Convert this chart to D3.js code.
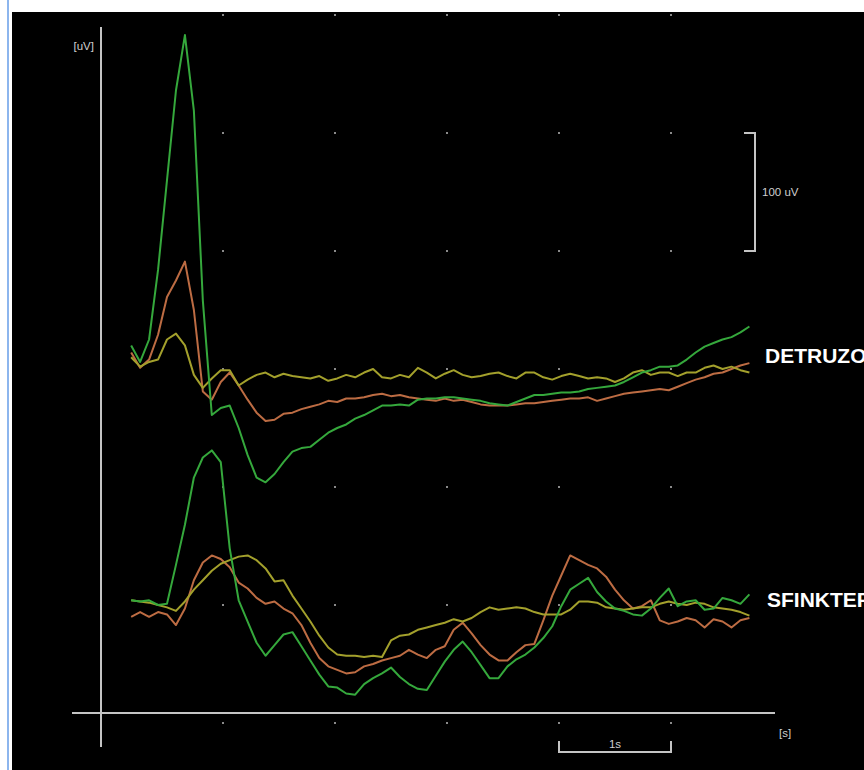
<!DOCTYPE html>
<html>
<head>
    <meta charset="utf-8">
    <title>Detruzor / Sfinkter</title>
    <script src="https://d3js.org/d3.v7.min.js"></script>
    <style>
        body { margin: 0; background: #fff; }
        svg { display: block; }
    </style>
</head>
<body>
<div id="chart"></div>
<script>
// sample times [s]
var times = [0.18,0.26,0.34,0.42,0.50,0.58,0.66,0.74,0.82,0.90,0.98,1.06,1.14,1.22,1.30,1.38,1.46,1.54,1.62,1.70,
             1.78,1.86,1.94,2.02,2.10,2.18,2.26,2.34,2.42,2.50,2.58,2.66,2.74,2.82,2.90,2.98,3.06,3.14,3.22,3.30,
             3.38,3.46,3.54,3.62,3.70,3.78,3.86,3.94,4.02,4.10,4.18,4.26,4.34,4.42,4.50,4.58,4.66,4.74,4.82,4.90,
             4.98,5.06,5.14,5.22,5.30,5.38,5.46,5.54,5.62,5.70];

// detruzor channel [uV]
var detGreen = [20,6,25,84,160,236,283,219,58,-39,-33,-31,-50,-73,-92,-96,-89,-79,-70,-67,
                -66,-60,-54,-50,-47,-42,-39,-35,-31,-31,-30,-31,-26,-25,-25,-24,-24,-25,-26,-27,
                -29,-30,-31,-28,-25,-22,-22,-21,-20,-20,-19,-17,-16,-15,-14,-11,-7,-3,-1,2,
                2,3,8,14,19,22,25,27,31,36];
var detOrange = [14,1,8,29,61,75,91,50,-19,-26,-11,-3,-14,-26,-37,-44,-43,-38,-37,-34,
                 -32,-30,-27,-28,-25,-25,-24,-22,-21,-23,-22,-24,-25,-26,-27,-25,-27,-26,-28,-30,
                 -31,-31,-31,-30,-29,-29,-28,-27,-26,-25,-25,-24,-27,-25,-23,-21,-20,-19,-18,-17,
                 -18,-15,-12,-9,-7,-4,-3,0,3,5];
var detYellow = [10,2,6,8,25,30,20,-5,-16,-8,-1,-1,-14,-9,-5,-3,-7,-4,-6,-7,
                 -8,-6,-10,-8,-5,-7,-3,0,-7,-8,-5,-7,1,-3,-8,-4,-1,-5,-7,-6,
                 -4,-3,-6,-8,-3,-3,-7,-9,-6,-4,-6,-8,-7,-8,-11,-8,-3,-1,-5,-3,
                 -3,-6,-3,-3,1,3,0,2,-1,-3];

// sfinkter channel [uV]
var sfGreen = [4,3,4,0,1,34,68,108,125,131,121,48,4,-14,-32,-43,-34,-25,-23,-35,
               -47,-59,-69,-70,-75,-76,-67,-62,-58,-53,-61,-67,-71,-72,-60,-48,-38,-31,-40,-51,
               -62,-62,-52,-46,-42,-36,-28,-18,-1,13,18,23,11,3,-3,-5,-8,-9,-3,6,
               14,-1,3,4,-4,-3,6,4,1,9];
var sfOrange = [-10,-6,-10,-6,-8,-17,-3,21,36,42,39,32,19,14,6,1,3,-3,-7,-17,
                -32,-45,-52,-55,-58,-57,-52,-50,-47,-45,-43,-38,-42,-45,-38,-35,-21,-15,-24,-34,
                -42,-47,-47,-40,-34,-33,-13,8,25,42,38,34,31,24,13,4,-3,-1,4,-13,
                -16,-14,-11,-13,-19,-12,-14,-19,-13,-11];
var sfYellow = [4,3,2,0,-2,-5,3,13,21,29,35,38,41,42,38,31,20,21,8,-3,
                -14,-26,-36,-42,-43,-43,-44,-43,-44,-30,-26,-25,-21,-19,-17,-15,-12,-14,-11,-6,
                -2,-4,-3,-2,-3,-6,-8,-8,-8,-4,3,3,2,-2,-3,-4,-3,-2,-2,1,
                3,1,0,2,1,-2,-3,-4,-6,-9];

var channelNames = ["DETRUZOR", "SFINKTER"];
var channelOffsets = [0, -200];        // uV shift of each channel baseline
var gridSeconds = [1, 2, 3, 4, 5];
var gridLevels = [300, 200, 100, 0, -100, -200, -300];

var colors = { green: "#35a83c", orange: "#bd6c43", yellow: "#a3a02c" };

var width = 864, height = 770;

var x = d3.scaleLinear().domain([0, 6]).range([111, 783]);
var y = d3.scaleLinear().domain([0, 100]).range([369, 251]);

var svg = d3.select("#chart").append("svg")
    .attr("width", width)
    .attr("height", height);

// frame: blue rule on the left, black panel
svg.append("rect").attr("x", 7).attr("y", 0).attr("width", 2).attr("height", height).attr("fill", "#8db6ee");
svg.append("rect").attr("x", 12).attr("y", 12).attr("width", width - 12).attr("height", height - 12).attr("fill", "#000");

// grid dots
var dots = [];
gridSeconds.forEach(function(s) {
    gridLevels.forEach(function(l) { dots.push([s, l]); });
});
svg.selectAll("rect.dot")
    .data(dots)
    .enter()
    .append("rect")
    .attr("class", "dot")
    .attr("x", function(d) { return x(d[0]) - 1; })
    .attr("y", function(d) { return y(d[1]) - 1; })
    .attr("width", 2)
    .attr("height", 2)
    .attr("fill", "#8a8a8a");

// axes
var axisColor = "#c4c4c4";
svg.append("line").attr("x1", 101).attr("x2", 101).attr("y1", 27).attr("y2", 747)
    .attr("stroke", axisColor).attr("stroke-width", 2);
svg.append("line").attr("x1", 72).attr("x2", 775).attr("y1", 713).attr("y2", 713)
    .attr("stroke", axisColor).attr("stroke-width", 2);

var smallText = function(txt, tx, ty, anchor) {
    svg.append("text")
        .attr("x", tx).attr("y", ty)
        .attr("text-anchor", anchor || "start")
        .attr("fill", "#cfcfcf")
        .style("font-family", "'Liberation Sans', Arial, sans-serif")
        .style("font-size", "11.5px")
        .text(txt);
};
smallText("[uV]", 94, 50, "end");
smallText("[s]", 779, 737);

// 100 uV scale bar
var barX = 755;
svg.append("path")
    .attr("d", "M" + (barX - 11) + "," + y(200) + "H" + barX + "V" + y(100) + "H" + (barX - 11))
    .attr("fill", "none").attr("stroke", axisColor).attr("stroke-width", 2);
smallText("100 uV", 762, 196);

// 1 s scale bar
var barY = 752;
svg.append("path")
    .attr("d", "M" + x(4) + "," + (barY - 11) + "V" + barY + "H" + x(5) + "V" + (barY - 11))
    .attr("fill", "none").attr("stroke", axisColor).attr("stroke-width", 2);
smallText("1s", (x(4) + x(5)) / 2, 748, "middle");

// traces
var line = d3.line()
    .x(function(d, i) { return x(times[i]); });

var traces = [
    { values: detOrange, ch: 0, color: colors.orange },
    { values: detYellow, ch: 0, color: colors.yellow },
    { values: detGreen,  ch: 0, color: colors.green },
    { values: sfOrange,  ch: 1, color: colors.orange },
    { values: sfYellow,  ch: 1, color: colors.yellow },
    { values: sfGreen,   ch: 1, color: colors.green }
];

svg.selectAll("path.trace")
    .data(traces)
    .enter()
    .append("path")
    .attr("class", "trace")
    .attr("fill", "none")
    .attr("stroke", function(d) { return d.color; })
    .attr("stroke-width", 2)
    .attr("stroke-linejoin", "round")
    .attr("d", function(d) {
        return line.y(function(v) { return y(v + channelOffsets[d.ch]); })(d.values);
    });

// channel labels (run off the right edge, as in the original screenshot)
svg.selectAll("text.channel")
    .data(channelNames)
    .enter()
    .append("text")
    .attr("class", "channel")
    .attr("x", function(d, i) { return i === 0 ? 765 : 767; })
    .attr("y", function(d, i) { return y(channelOffsets[i]) - (i === 0 ? 6 : -2); })
    .attr("fill", "#fff")
    .style("font-family", "'Liberation Sans', Arial, sans-serif")
    .style("font-weight", "bold")
    .style("font-size", "21px")
    .text(function(d) { return d; });
</script>
</body>
</html>
